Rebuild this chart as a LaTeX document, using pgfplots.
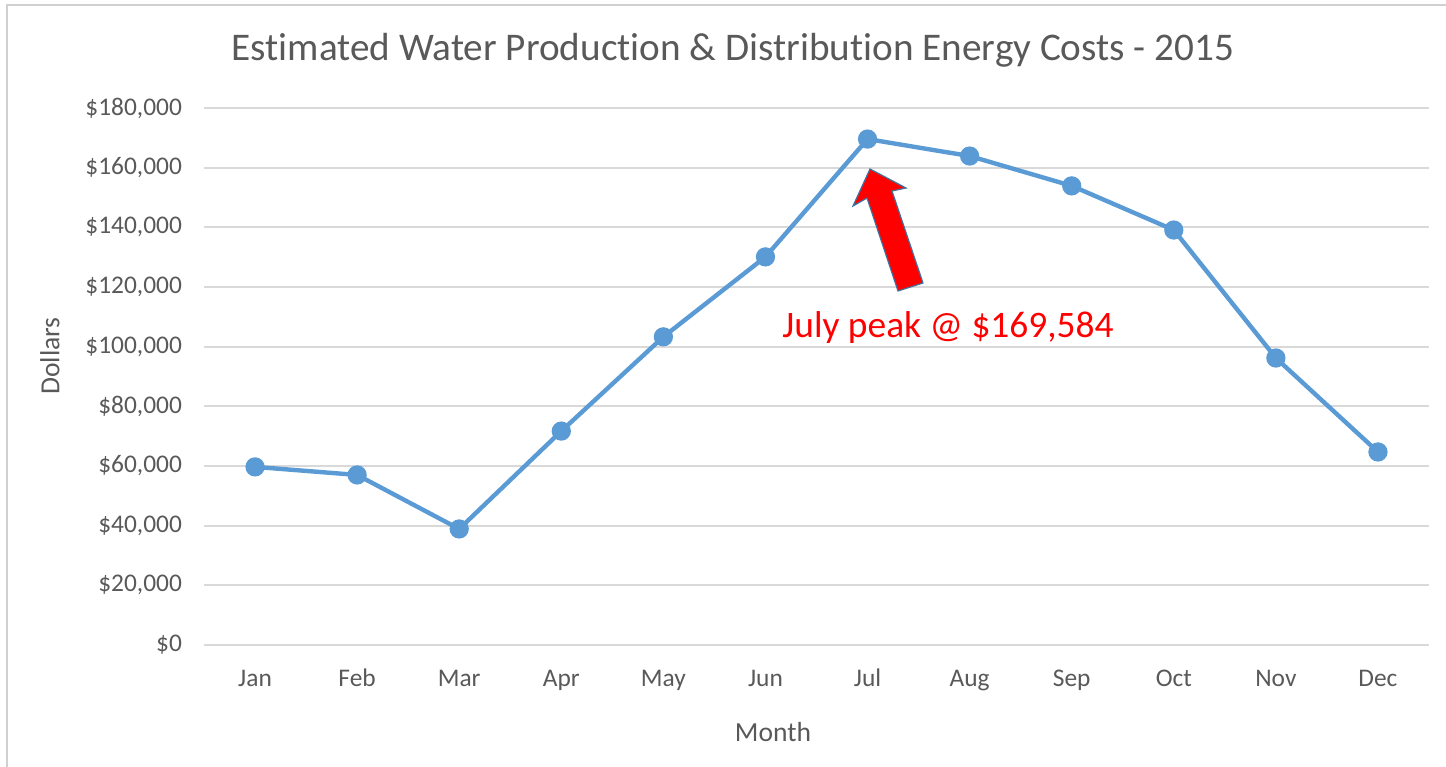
\documentclass[border=0pt]{standalone}
\usepackage{pgfplots}
\pgfplotsset{compat=1.18}
\usepackage{fontspec}
\setmainfont{Carlito}[Ligatures=NoCommon]
\definecolor{lineblue}{HTML}{5B9BD5}
\definecolor{txtgray}{HTML}{595959}
\definecolor{gridgray}{HTML}{D9D9D9}
\definecolor{framegray}{HTML}{D0D0D0}
\definecolor{arrowedge}{HTML}{41719C}
\pgfplotsset{/pgf/number format/assume math mode=true}
\begin{document}
\begin{tikzpicture}
\path[use as bounding box] (0,0) rectangle (723pt,383pt);
\begin{axis}[
  at={(102pt,60.5pt)}, anchor=south west,
  scale only axis, width=612.5pt, height=268.5pt,
  xmin=-0.5, xmax=11.5, ymin=0, ymax=180000,
  xtick={0,...,11},
  xticklabels={Jan,Feb,Mar,Apr,May,Jun,Jul,Aug,Sep,Oct,Nov,Dec},
  ytick={0,20000,...,180000},
  scaled y ticks=false,
  yticklabel={\$\pgfmathprintnumber[fixed,1000 sep={,}]{\tick}},
  axis line style={draw=none},
  tick style={draw=none},
  ymajorgrids,
  grid style={gridgray, line width=0.9pt},
  tick label style={font=\fontsize{12.7}{15}\selectfont, text=txtgray},
  yticklabel style={xshift=-7.5pt},
  xticklabel style={yshift=-8pt, text height=9pt, text depth=2.5pt},
  clip=false,
]
\addplot[lineblue, line width=2.2pt, mark=*, mark size=3.7pt,
  mark options={fill=lineblue, draw=lineblue, solid}]
  coordinates {
  (0,59700) (1,57000) (2,38900) (3,71700) (4,103300) (5,130100)
  (6,169584) (7,163900) (8,153900) (9,139100) (10,96200) (11,64700)
  };
\end{axis}
\begin{scope}[yshift=383pt, x=0.5pt, y=-0.5pt]
  \draw[framegray, line width=1.2pt] (7,770) -- (7,5) -- (1450,5);
  \node[text=txtgray, font=\fontsize{19.6}{23}\selectfont] at (733,50) {Estimated Water Production \& Distribution Energy Costs - 2015};
  \node[text=txtgray, font=\fontsize{13.8}{16}\selectfont] at (773,732) {Month};
  \node[text=txtgray, font=\fontsize{13.8}{16}\selectfont, rotate=90] at (50,356) {Dollars};
  \filldraw[fill=red, draw=arrowedge, line width=0.6pt, line join=miter]
    (870,169) -- (906,188) -- (892,191) -- (923,283) -- (898,291) -- (867,198) -- (853,206) -- cycle;
  \node[text=red, font=\fontsize{18.7}{22}\selectfont] at (948,328) {July peak @ \$169,584};
\end{scope}
\end{tikzpicture}
\end{document}
